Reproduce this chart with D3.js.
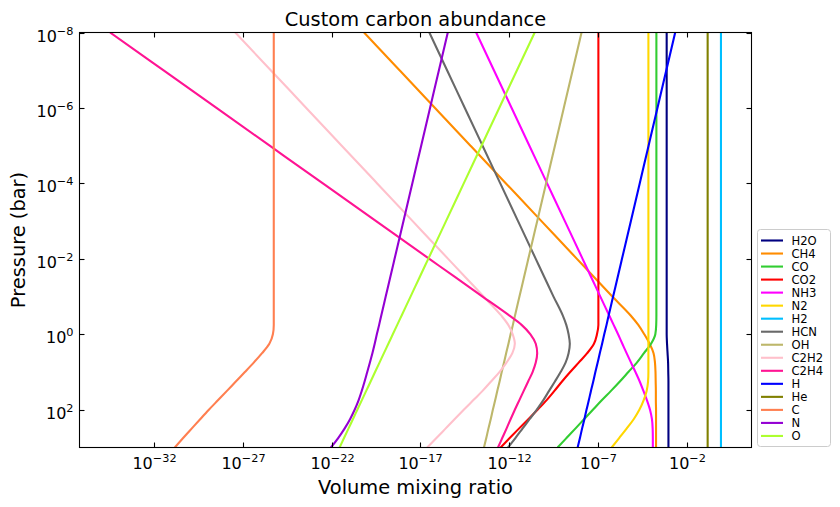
<!DOCTYPE html>
<html><head><meta charset="utf-8">
<script src="https://cdn.jsdelivr.net/npm/d3@7/dist/d3.min.js"></script>
<style>
body{margin:0;background:#fff}
text{font-family:"DejaVu Sans",sans-serif;fill:#000}
</style>
</head><body>
<svg id="chart" width="840" height="507"></svg>
<script>
// Pressure levels (bar)
const pressure = [1e-8,1e-7,1e-6,1e-5,1e-4,1e-3,1e-2,3.16e-2,1e-1,3.16e-1,5.62e-1,1,1.78,3.16,5.62,10,17.8,31.6,56.2,100,178,316,562,1000];

// log10 of volume mixing ratio at each pressure level
const H2O  = [-3.12,-3.12,-3.12,-3.12,-3.12,-3.12,-3.12,-3.12,-3.12,-3.12,-3.12,-3.12,-3.10,-3.07,-3.04,-3.03,-3.02,-3.02,-3.02,-3.02,-3.02,-3.02,-3.02,-3.02];
const CH4  = [-20.18,-18.18,-16.18,-14.18,-12.18,-10.18,-8.18,-7.18,-6.18,-5.15,-4.72,-4.38,-4.08,-3.86,-3.78,-3.75,-3.74,-3.73,-3.73,-3.72,-3.72,-3.72,-3.72,-3.72];
const CO   = [-3.70,-3.70,-3.70,-3.70,-3.70,-3.70,-3.70,-3.70,-3.70,-3.70,-3.71,-3.76,-4.00,-4.40,-4.80,-5.28,-5.76,-6.26,-6.78,-7.28,-7.78,-8.27,-8.77,-9.27];
const CO2  = [-6.97,-6.97,-6.97,-6.97,-6.97,-6.97,-6.97,-6.97,-6.97,-6.97,-6.97,-7.05,-7.22,-7.60,-8.08,-8.56,-9.02,-9.45,-9.90,-10.40,-10.92,-11.45,-11.97,-12.48];
const NH3  = [-13.86,-12.86,-11.86,-10.86,-9.86,-8.86,-7.86,-7.36,-6.86,-6.36,-6.11,-5.86,-5.62,-5.38,-5.13,-4.88,-4.64,-4.43,-4.23,-4.06,-3.95,-3.91,-3.90,-3.90];
const N2   = [-4.15,-4.15,-4.15,-4.15,-4.15,-4.15,-4.15,-4.15,-4.15,-4.15,-4.15,-4.15,-4.15,-4.15,-4.15,-4.15,-4.17,-4.25,-4.42,-4.66,-4.98,-5.38,-5.80,-6.22];
const H2   = [-0.06,-0.06,-0.06,-0.06,-0.06,-0.06,-0.06,-0.06,-0.06,-0.06,-0.06,-0.06,-0.06,-0.06,-0.06,-0.06,-0.06,-0.06,-0.06,-0.06,-0.06,-0.06,-0.06,-0.06];
const HCN  = [-16.5,-15.5,-14.5,-13.5,-12.5,-11.5,-10.5,-10.0,-9.5,-8.98,-8.78,-8.65,-8.58,-8.65,-8.82,-9.10,-9.42,-9.75,-10.08,-10.45,-10.85,-11.25,-11.65,-12.07];
const OH   = [-7.92,-8.42,-8.92,-9.42,-9.92,-10.42,-10.92,-11.17,-11.42,-11.67,-11.79,-11.92,-12.04,-12.17,-12.29,-12.42,-12.54,-12.67,-12.79,-12.92,-13.04,-13.17,-13.29,-13.42];
const C2H2 = [-27.44,-25.44,-23.44,-21.44,-19.44,-17.44,-15.44,-14.44,-13.44,-12.45,-12.05,-11.80,-11.68,-11.82,-12.15,-12.55,-13.02,-13.50,-14.03,-14.56,-15.08,-15.59,-16.10,-16.62];
const C2H4 = [-34.5,-31.5,-28.5,-25.5,-22.5,-19.5,-16.5,-15.0,-13.5,-12.0,-11.3,-10.8,-10.5,-10.42,-10.5,-10.68,-10.93,-11.18,-11.43,-11.68,-11.92,-12.15,-12.39,-12.63];
const H    = [-2.64,-3.14,-3.64,-4.14,-4.64,-5.14,-5.64,-5.89,-6.14,-6.39,-6.51,-6.64,-6.76,-6.89,-7.01,-7.14,-7.26,-7.39,-7.51,-7.64,-7.76,-7.89,-8.01,-8.14];
const He   = [-0.81,-0.81,-0.81,-0.81,-0.81,-0.81,-0.81,-0.81,-0.81,-0.81,-0.81,-0.81,-0.81,-0.81,-0.81,-0.81,-0.81,-0.81,-0.81,-0.81,-0.81,-0.81,-0.81,-0.81];
const C    = [-25.27,-25.27,-25.27,-25.27,-25.27,-25.27,-25.27,-25.27,-25.27,-25.27,-25.27,-25.32,-25.52,-25.93,-26.4,-26.9,-27.41,-27.91,-28.42,-28.93,-29.42,-29.9,-30.38,-30.85];
const N    = [-15.46,-15.96,-16.46,-16.96,-17.46,-17.96,-18.46,-18.71,-18.96,-19.21,-19.33,-19.46,-19.58,-19.71,-19.85,-20.0,-20.15,-20.31,-20.49,-20.71,-20.97,-21.28,-21.64,-22.05];
const O    = [-10.56,-11.56,-12.56,-13.56,-14.56,-15.56,-16.56,-17.06,-17.56,-18.06,-18.31,-18.56,-18.81,-19.06,-19.31,-19.56,-19.81,-20.06,-20.31,-20.56,-20.81,-21.06,-21.31,-21.56];

const speciesNames = ["H2O","CH4","CO","CO2","NH3","N2","H2","HCN","OH","C2H2","C2H4","H","He","C","N","O"];
const speciesValues = [H2O,CH4,CO,CO2,NH3,N2,H2,HCN,OH,C2H2,C2H4,H,He,C,N,O];
const speciesColors = ["#000080","#ff8c00","#32cd32","#ff0000","#ff00ff","#ffd700","#00bfff","#696969","#bdb76b","#ffc0cb","#ff1493","#0000ff","#808000","#ff7f50","#9400d3","#adff2f"];

const xTickExps = [-32,-27,-22,-17,-12,-7,-2];
const yTickExps = [-8,-6,-4,-2,0,2];

const title = "Custom carbon abundance";
const xLabel = "Volume mixing ratio";
const yLabel = "Pressure (bar)";

// ---- layout ----
const L = 79.5, R = 751.5, T = 32.5, B = 447.5;
const svg = d3.select("#chart");

// x domain: data extent with 5% padding (log space)
const allExp = speciesValues.flat();
const eMin = d3.min(allExp), eMax = d3.max(allExp), pad = (eMax - eMin) * 0.05;
const x = d3.scaleLog().domain([Math.pow(10, eMin - pad), Math.pow(10, eMax + pad)]).range([L, R]);
const y = d3.scaleLog().domain([1e-8, 1e3]).range([T, B]);

svg.append("defs").append("clipPath").attr("id","clip")
  .append("rect").attr("x",L).attr("y",T).attr("width",R-L).attr("height",B-T);

const line = d3.line()
  .x(d => x(Math.pow(10, d[0])))
  .y(d => y(d[1]))
  .curve(d3.curveMonotoneY);

const gLines = svg.append("g").attr("clip-path","url(#clip)");
speciesValues.forEach((vals, i) => {
  const pts = vals.map((v, j) => [v, pressure[j]]);
  gLines.append("path").attr("d", line(pts))
    .attr("fill","none").attr("stroke", speciesColors[i])
    .attr("stroke-width", 2.1).attr("stroke-linejoin","round");
});

// frame
svg.append("rect").attr("x",L).attr("y",T).attr("width",R-L).attr("height",B-T)
  .attr("fill","none").attr("stroke","#000").attr("stroke-width",1.1);

// ticks (inward, all sides)
const tl = 5;
xTickExps.forEach(e => {
  const px = Math.round(x(Math.pow(10,e))) + 0.5;
  svg.append("line").attr("x1",px).attr("x2",px).attr("y1",B).attr("y2",B-tl).attr("stroke","#000").attr("stroke-width",1.1);
  svg.append("line").attr("x1",px).attr("x2",px).attr("y1",T).attr("y2",T+tl).attr("stroke","#000").attr("stroke-width",1.1);
  const t = svg.append("text").attr("x",px).attr("y",B+21).attr("text-anchor","middle").attr("font-size","16px");
  t.append("tspan").text("10");
  t.append("tspan").attr("dy","-6.7").attr("font-size","11.3px").text("\u2212" + Math.abs(e));
});
yTickExps.forEach(e => {
  const py = Math.round(y(Math.pow(10,e))) + 0.5;
  svg.append("line").attr("x1",L).attr("x2",L+tl).attr("y1",py).attr("y2",py).attr("stroke","#000").attr("stroke-width",1.1);
  svg.append("line").attr("x1",R).attr("x2",R-tl).attr("y1",py).attr("y2",py).attr("stroke","#000").attr("stroke-width",1.1);
  const t = svg.append("text").attr("x",L-6).attr("y",py+8).attr("text-anchor","end").attr("font-size","16px");
  t.append("tspan").text("10");
  t.append("tspan").attr("dy","-6.7").attr("font-size","11.3px").text((e < 0 ? "\u2212" : "") + Math.abs(e));
});

// title & labels
svg.append("text").attr("x",(L+R)/2).attr("y",25.5).attr("text-anchor","middle").attr("font-size","19.4px").text(title);
svg.append("text").attr("x",(L+R)/2).attr("y",493.5).attr("text-anchor","middle").attr("font-size","19.4px").text(xLabel);
svg.append("text").attr("transform",`translate(25,${(T+B)/2}) rotate(-90)`).attr("text-anchor","middle").attr("font-size","19.4px").text(yLabel);

// legend
const lg = svg.append("g");
lg.append("rect").attr("x",757.5).attr("y",229.5).attr("width",73).attr("height",217).attr("rx",3)
  .attr("fill","#fff").attr("fill-opacity",0.8).attr("stroke","#cccccc").attr("stroke-width",1);
speciesNames.forEach((name, i) => {
  const cy = 240.5 + i * 13.03;
  lg.append("line").attr("x1",761).attr("x2",783).attr("y1",cy).attr("y2",cy)
    .attr("stroke",speciesColors[i]).attr("stroke-width",2.1);
  lg.append("text").attr("x",791.5).attr("y",cy+4.2).attr("font-size","11.6px").text(name);
});
</script>
</body></html>
